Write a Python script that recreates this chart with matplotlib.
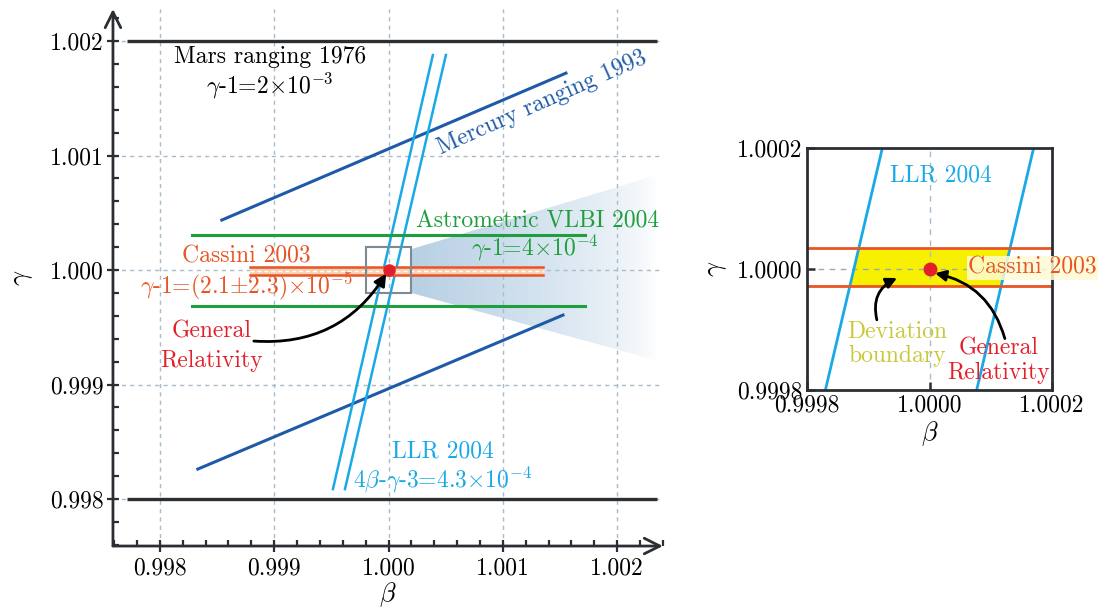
import numpy as np
import matplotlib.pyplot as plt
from matplotlib.patches import Polygon, Rectangle
from matplotlib.ticker import MultipleLocator

plt.rcParams['font.family'] = 'cmr10'
plt.rcParams['mathtext.fontset'] = 'cm'
plt.rcParams['axes.formatter.use_mathtext'] = True

# --- data (beta, gamma) ---
mars_beta = [0.99771, 1.00235]
mars_gamma = [1.002, 0.998]

mercury_upper_beta = [0.998542, 1.001552]
mercury_upper_gamma = [1.000437, 1.00172]
mercury_lower_beta = [0.998332, 1.001526]
mercury_lower_gamma = [0.998262, 0.999607]

llr_gamma = [0.998087, 1.001878]
llr_left_beta = [0.999514, 1.000388]
llr_right_beta = [0.999619, 1.000502]

vlbi_beta = [0.99828, 1.001718]
vlbi_gamma = [1.000306, 0.999686]

cassini_beta = [0.998787, 1.001351]
cassini_gamma = [1.000028, 0.999958]

gr_beta, gr_gamma = 1.0, 1.0
zoom_box = [0.9998, 1.0002]

main_ticks = [0.998, 0.999, 1.000, 1.001, 1.002]
main_ticklabels = ['0.998', '0.999', '1.000', '1.001', '1.002']

# inset
inset_gamma = [0.9998, 1.0002]
inset_llr_left = [0.99983, 0.999923]
inset_llr_right = [1.000077, 1.00017]
inset_cassini = [1.0000345, 0.9999727]
inset_ticks = [0.9998, 1.0, 1.0002]
inset_ticklabels = ['0.9998', '1.0000', '1.0002']

dark = '#2b2f33'
mercury_c = '#1f5aa8'
llr_c = '#19a9e6'
vlbi_c = '#1e9e3c'
cassini_c = '#e85424'
red = '#e3202a'
grid_c = '#a9bccb'

fig = plt.figure(figsize=(11.01, 6.09), dpi=100)

# ---------------- main panel ----------------
ax = fig.add_axes([0.1026, 0.1034, 0.4995, 0.8818])
ax.set_axisbelow('line')

ax.set_xticks(main_ticks)
ax.set_xticklabels(main_ticklabels)
ax.set_yticks(main_ticks)
ax.set_yticklabels(main_ticklabels)
ax.xaxis.set_minor_locator(MultipleLocator(0.0002))
ax.yaxis.set_minor_locator(MultipleLocator(0.0002))
ax.tick_params(which='major', direction='inout', length=9, width=1.6,
               color=dark, labelsize=17, pad=2)
ax.tick_params(which='minor', direction='in', length=4.5, width=1.6, color=dark)
ax.tick_params(axis='x', which='major', pad=4)
ax.grid(True, which='major', color=grid_c, ls=(0, (3, 3)), lw=1)
for s in ax.spines.values():
    s.set_visible(False)

arrow_kw = dict(arrowstyle='->', lw=2, color=dark, mutation_scale=28,
                shrinkA=0, shrinkB=0)
ax.annotate('', xy=(1, 0), xytext=(0, 0), xycoords='axes fraction',
            arrowprops=arrow_kw)
ax.annotate('', xy=(0, 1), xytext=(0, 0), xycoords='axes fraction',
            arrowprops=arrow_kw)

ax.set_xlabel(r'$\beta$', fontsize=19, labelpad=0)
ax.set_ylabel(r'$\gamma$', fontsize=19, labelpad=11)

# zoom wedge toward the inset, fading out
wedge = Polygon([(zoom_box[1], zoom_box[1] - 0.000017),
                 (1.00235, 1.00083), (1.00235, 0.99921),
                 (zoom_box[1], zoom_box[0])],
                closed=True, facecolor='none', edgecolor='none')
ax.add_patch(wedge)
grad = np.zeros((1, 256, 4))
grad[..., 0] = 0.70
grad[..., 1] = 0.80
grad[..., 2] = 0.89
grad[..., 3] = np.linspace(0.9, 0.0, 256) ** 0.7
im = ax.imshow(grad, extent=[zoom_box[1], 1.00235, 0.99921, 1.00083],
               aspect='auto', zorder=1, interpolation='bilinear')
im.set_clip_path(wedge)
ax.set_xlim(0.99759, 1.0024)
ax.set_ylim(0.99759, 1.00228)

for g in mars_gamma:
    ax.plot(mars_beta, [g, g], color=dark, lw=2.4, solid_capstyle='butt')
ax.plot(mercury_upper_beta, mercury_upper_gamma, color=mercury_c, lw=2.2)
ax.plot(mercury_lower_beta, mercury_lower_gamma, color=mercury_c, lw=2.2)
ax.plot(llr_left_beta, llr_gamma, color=llr_c, lw=1.8)
ax.plot(llr_right_beta, llr_gamma, color=llr_c, lw=1.8)
for g in vlbi_gamma:
    ax.plot(vlbi_beta, [g, g], color=vlbi_c, lw=2.2)

ax.fill_between(cassini_beta, cassini_gamma[1], cassini_gamma[0],
                color='#f7d0b4', lw=0, zorder=2.2)
for g in cassini_gamma:
    ax.plot(cassini_beta, [g, g], color=cassini_c, lw=1.8, zorder=2.3)
ax.plot(cassini_beta, [np.mean(cassini_gamma)] * 2, color='white',
        lw=1, ls=(0, (3, 2)), zorder=2.4)

ax.add_patch(Rectangle((zoom_box[0], zoom_box[0]), zoom_box[1] - zoom_box[0],
                       zoom_box[1] - zoom_box[0], fill=False,
                       edgecolor='#7d8a93', lw=1.5, zorder=2.5))
ax.plot(gr_beta, gr_gamma, 'o', color=red, ms=8, zorder=4)

fs = 17
ax.text(0.998962, 1.00186, 'Mars ranging 1976', fontsize=fs, color='black',
        ha='center', va='center')
ax.text(0.998962, 1.00161, r'$\gamma$-1=2$\times$10$^{-3}$', fontsize=fs,
        color='black', ha='center', va='center')
ax.text(1.001345, 1.00146, 'Mercury ranging 1993', fontsize=fs,
        color=mercury_c, ha='center', va='center', rotation=24)
ax.text(1.001307, 1.000422, 'Astrometric VLBI 2004', fontsize=fs,
        color=vlbi_c, ha='center', va='center')
ax.text(1.001281, 1.000195, r'$\gamma$-1=4$\times$10$^{-4}$', fontsize=fs,
        color=vlbi_c, ha='center', va='center')
ax.text(0.998752, 1.000118, 'Cassini 2003', fontsize=fs, color=cassini_c,
        ha='center', va='center')
ax.text(0.998752, 0.999855, r'$\gamma$-1=(2.1$\pm$2.3)$\times$10$^{-5}$',
        fontsize=fs, color=cassini_c, ha='center', va='center')
ax.text(0.998455, 0.99946, 'General', fontsize=fs, color=red,
        ha='center', va='center')
ax.text(0.998455, 0.99921, 'Relativity', fontsize=fs, color=red,
        ha='center', va='center')
ax.text(1.000476, 0.998412, 'LLR 2004', fontsize=fs, color=llr_c,
        ha='center', va='center')
ax.text(1.000476, 0.998166, r'4$\beta$-$\gamma$-3=4.3$\times$10$^{-4}$',
        fontsize=fs, color=llr_c, ha='center', va='center')
ax.annotate('', xy=(gr_beta - 0.00002, gr_gamma - 0.00003),
            xytext=(0.998822, 0.99938),
            arrowprops=dict(arrowstyle='-|>', connectionstyle='arc3,rad=0.3',
                            color='black', lw=2, mutation_scale=18,
                            shrinkA=0, shrinkB=0), zorder=5)

# ---------------- inset ----------------
ax2 = fig.add_axes([0.733, 0.3596, 0.2225, 0.3974])
ax2.set_xlim(zoom_box)
ax2.set_ylim(zoom_box)
ax2.set_xticks(inset_ticks)
ax2.set_xticklabels(inset_ticklabels)
ax2.set_yticks(inset_ticks)
ax2.set_yticklabels(inset_ticklabels)
ax2.tick_params(direction='in', length=6, width=1.8, color=dark,
                labelsize=17, pad=3)
for s in ax2.spines.values():
    s.set_color(dark)
    s.set_linewidth(2)
ax2.set_xlabel(r'$\beta$', fontsize=19, labelpad=2)
ax2.set_ylabel(r'$\gamma$', fontsize=19, labelpad=6)

yy = np.array(sorted(inset_cassini))
xl = np.interp(yy, inset_gamma, inset_llr_left)
xr = np.interp(yy, inset_gamma, inset_llr_right)
ax2.fill_betweenx(yy, xl, xr, color='#f7f000', lw=0, zorder=1)
ax2.axvline(1.0, color=grid_c, ls=(0, (4, 4)), lw=1, zorder=1.5)
ax2.axhline(1.0, color='#9aa8b0', ls=(0, (4, 4)), lw=1, zorder=1.5)
ax2.plot(inset_llr_left, inset_gamma, color=llr_c, lw=2, zorder=2)
ax2.plot(inset_llr_right, inset_gamma, color=llr_c, lw=2, zorder=2)
for g in inset_cassini:
    ax2.axhline(g, color=cassini_c, lw=2, zorder=2.2)
ax2.plot(gr_beta, gr_gamma, 'o', color=red, ms=9, zorder=4)

ax2.text(1.0000188, 1.000155, 'LLR 2004', fontsize=fs, color=llr_c,
         ha='center', va='center')
ax2.text(1.000063, 1.000002, 'Cassini 2003', fontsize=fs, color=cassini_c,
         ha='left', va='center', zorder=3,
         bbox=dict(boxstyle='square,pad=0.05', fc='#fdfbd6', ec='none', alpha=0.85))
ax2.text(0.999947, 0.999896, 'Deviation', fontsize=fs, color='#c9c83a',
         ha='center', va='center')
ax2.text(0.999947, 0.999856, 'boundary', fontsize=fs, color='#c9c83a',
         ha='center', va='center')
ax2.text(1.000113, 0.999868, 'General', fontsize=fs, color=red,
         ha='center', va='center')
ax2.text(1.000113, 0.999828, 'Relativity', fontsize=fs, color=red,
         ha='center', va='center')
ax2.annotate('', xy=(0.999947, 0.999985), xytext=(0.999914, 0.999916),
             arrowprops=dict(arrowstyle='-|>', connectionstyle='arc3,rad=-0.4',
                             color='black', lw=2, mutation_scale=16,
                             shrinkA=0, shrinkB=0), zorder=5)
ax2.annotate('', xy=(1.000009, 0.999993), xytext=(1.000123, 0.999885),
             arrowprops=dict(arrowstyle='-|>', connectionstyle='arc3,rad=0.3',
                             color='black', lw=2, mutation_scale=16,
                             shrinkA=0, shrinkB=0), zorder=5)

fig.savefig('out.png', dpi=100)
